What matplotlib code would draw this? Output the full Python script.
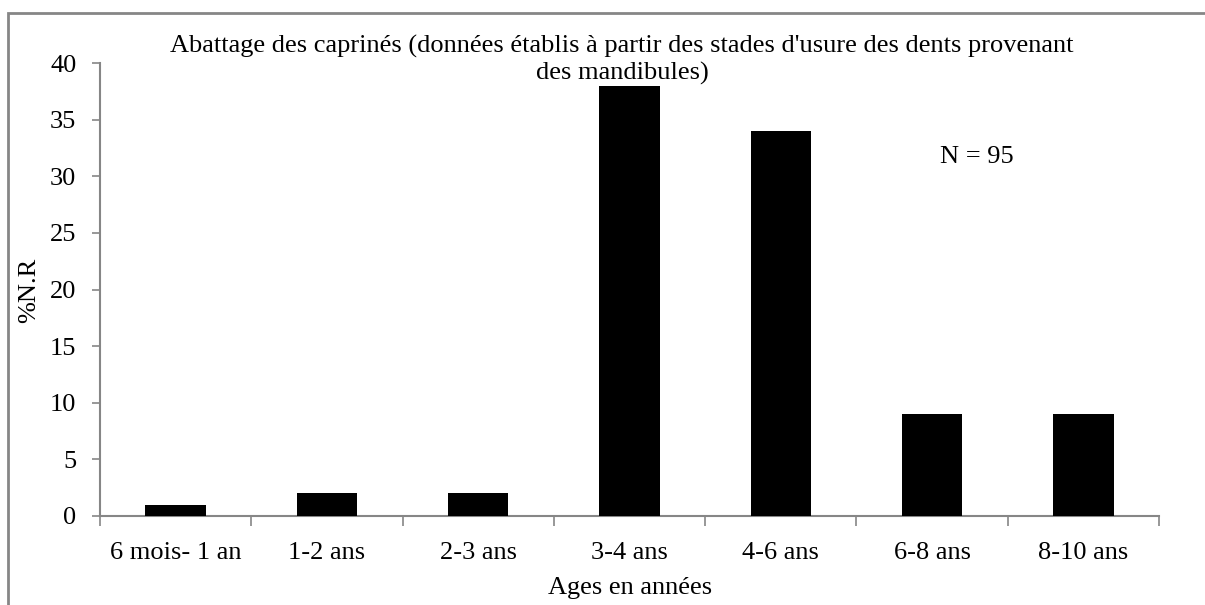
import matplotlib
matplotlib.use("Agg")
import matplotlib.pyplot as plt
from matplotlib.patches import Rectangle

plt.rcParams['font.family'] = ['Liberation Serif', 'DejaVu Serif']

# data
ages = ['6 mois- 1 an', '1-2 ans', '2-3 ans', '3-4 ans', '4-6 ans', '6-8 ans', '8-10 ans']
pct_nr = [1, 2, 2, 38, 34, 9, 9]

gray = '#868686'
fs = 19

fig = plt.figure(figsize=(12.05, 6.05), dpi=100)
ax = fig.add_axes([100/1205, 1 - 516/605, 1059/1205, 453/605])

x = range(len(ages))
ax.bar(x, pct_nr, width=0.4, color='black', zorder=3)

ax.set_xlim(-0.5, len(ages) - 0.5)
ax.set_ylim(0, 40)
ax.set_yticks(range(0, 41, 5))
ax.set_xticks(list(x))
ax.set_xticklabels(ages, fontsize=fs)
ax.tick_params(axis='x', length=0, pad=19)
ax.set_xticks([i - 0.5 for i in range(len(ages) + 1)], minor=True)
ax.tick_params(axis='x', which='minor', length=7, width=1.2, color=gray, direction='out')
ax.tick_params(axis='y', length=6, width=1.2, color=gray, direction='out', labelsize=fs, pad=11)

for side in ['top', 'right']:
    ax.spines[side].set_visible(False)
for side in ['left', 'bottom']:
    ax.spines[side].set_color(gray)
    ax.spines[side].set_linewidth(1.5)

# axis titles placed where the reference has them
fig.text(29/1205, 1 - 290/605, '%N.R', rotation=90, ha='center', va='center', fontsize=fs)
fig.text(630/1205, 1 - 588/605, 'Ages en années', ha='center', va='center', fontsize=fs)

fig.text(622/1205, 1 - 46/605, "Abattage des caprinés (données établis à partir des stades d'usure des dents provenant",
         ha='center', va='center', fontsize=fs)
fig.text(622/1205, 1 - 73/605, 'des mandibules)', ha='center', va='center', fontsize=fs)

fig.text(977/1205, 1 - 157/605, 'N = 95', ha='center', va='center', fontsize=fs)

# outer chart frame, cut by the image edges on the right and bottom
fig.patches.append(Rectangle((8/1205, -0.1), 1.2, 1.1 - 13/605, transform=fig.transFigure,
                             fill=False, edgecolor=gray, linewidth=2, clip_on=False))

fig.savefig('out.png', dpi=100, facecolor='white')
